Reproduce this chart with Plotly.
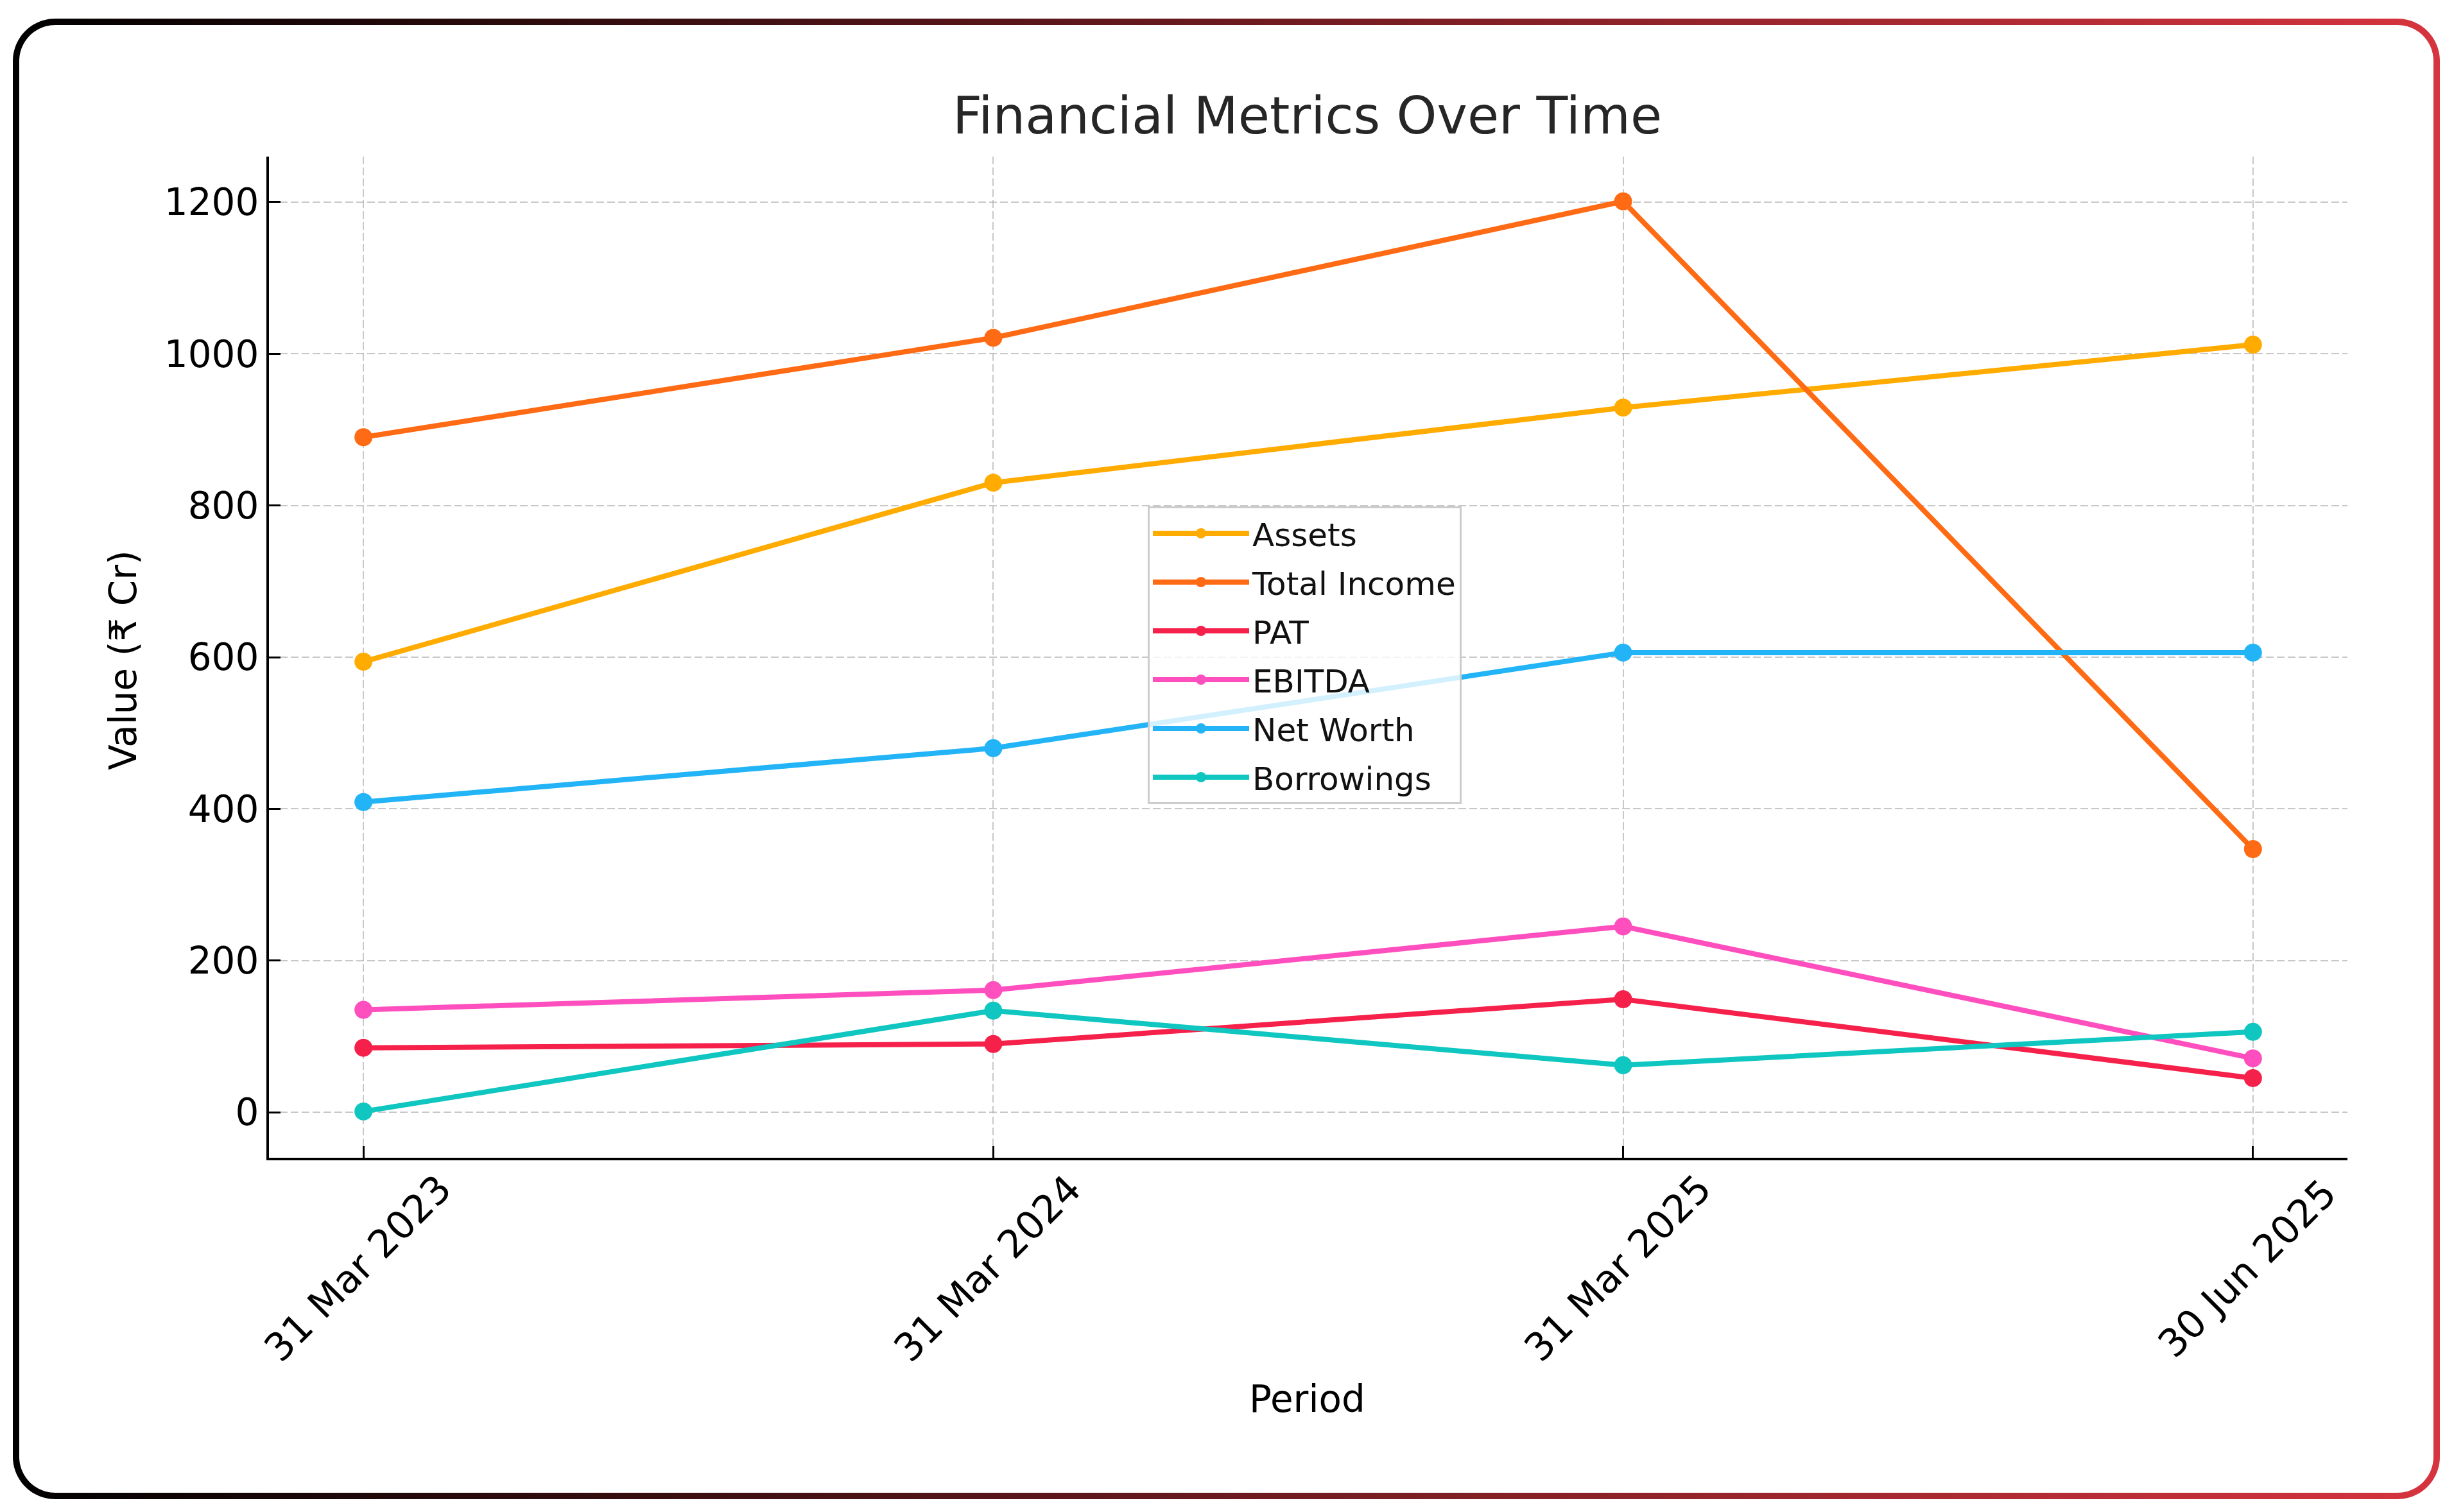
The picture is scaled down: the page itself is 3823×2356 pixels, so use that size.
import numpy as np
import plotly.graph_objects as go

# ---------------- data ----------------
periods = ["31 Mar 2023", "31 Mar 2024", "31 Mar 2025", "30 Jun 2025"]
assets = [594, 830, 929, 1012]
total_income = [890, 1021, 1201, 347]
pat = [85, 90, 149, 45]
ebitda = [135, 161, 245, 71]
net_worth = [409, 480, 606, 606]
borrowings = [1, 134, 62, 106]
y_ticks = [0, 200, 400, 600, 800, 1000, 1200]

series_names = ["Assets", "Total Income", "PAT", "EBITDA", "Net Worth", "Borrowings"]
series_values = [assets, total_income, pat, ebitda, net_worth, borrowings]
series_colors = ["#FFAB00", "#FF6A14", "#F5214B", "#FF4FBF", "#22B4F6", "#10C6C0"]

# ---------------- geometry ----------------
OFF = 8                      # page body margin
W, H = 3823 - 2 * OFF, 2356 - 2 * OFF


def fx(px):  # reference pixel -> paper fraction (x)
    return (px - OFF) / W


def fy(py):  # reference pixel -> paper fraction (y)
    return 1 - (py - OFF) / H


PL, PR, PT, PB = 419, 3657, 244, 1804
FONT = "DejaVu Sans"

fig = go.Figure()

for name, vals, col in zip(series_names, series_values, series_colors):
    fig.add_trace(go.Scatter(
        x=periods, y=vals, name=name, mode="lines+markers",
        legendgroup=name,
        line=dict(color=col, width=8),
        marker=dict(color=col, size=28),
        xaxis="x", yaxis="y",
    ))


# decorative rounded frame with horizontal gradient stroke
def rounded_rect(x0, y0, x1, y1, r, n=24):
    pts = []
    corners = [(x1 - r, y0 + r, -90, 0), (x1 - r, y1 - r, 0, 90),
               (x0 + r, y1 - r, 90, 180), (x0 + r, y0 + r, 180, 270)]
    for cx, cy, a0, a1 in corners:
        for t in np.linspace(np.radians(a0), np.radians(a1), n):
            pts.append((cx + r * np.cos(t) - OFF, cy + r * np.sin(t) - OFF))
    pts.append(pts[0])
    return pts


outer = rounded_rect(20, 29, 3801, 2336, 66)
inner = rounded_rect(30, 39, 3791, 2326, 56)
ring = outer + inner[::-1]
fig.add_trace(go.Scatter(
    x=[p[0] for p in ring], y=[p[1] for p in ring],
    xaxis="x2", yaxis="y2", mode="none", fill="toself",
    fillgradient=dict(type="horizontal",
                      colorscale=[[0, "#000000"], [1, "#D6343E"]]),
    showlegend=False, hoverinfo="skip",
))

grid_col = "rgba(176,176,176,0.7)"

fig.update_layout(
    width=W, height=H,
    margin=dict(l=0, r=0, t=0, b=0),
    paper_bgcolor="white", plot_bgcolor="rgba(0,0,0,0)",
    font=dict(family=FONT, size=58, color="black"),
    showlegend=True,
    legend=dict(
        x=fx(1788), y=fy(789), xanchor="left", yanchor="top",
        bgcolor="rgba(255,255,255,0.8)", bordercolor="#cccccc", borderwidth=3,
        font=dict(family=FONT, size=50, color="#111111"),
        itemwidth=150, tracegroupgap=8,
    ),
    xaxis=dict(
        type="category", domain=[fx(PL), fx(PR)], anchor="y",
        range=[-0.15, 3.15],
        showline=True, linecolor="black", linewidth=4,
        ticks="inside", ticklen=18, tickwidth=3, tickcolor="black",
        showticklabels=False,
        showgrid=True, gridcolor=grid_col, gridwidth=2, griddash="12px,5px",
        zeroline=False, fixedrange=True,
    ),
    yaxis=dict(
        domain=[fy(PB), fy(PT)], anchor="x",
        range=[-60, 1260],
        tickmode="array", tickvals=y_ticks, ticktext=[str(v) for v in y_ticks],
        showline=True, linecolor="black", linewidth=4,
        ticks="inside", ticklen=18, tickwidth=3, tickcolor="black",
        tickfont=dict(family=FONT, size=58, color="black"),
        showgrid=True, gridcolor=grid_col, gridwidth=2, griddash="12px,5px",
        zeroline=False, fixedrange=True,
    ),
    xaxis2=dict(domain=[0, 1], anchor="y2", range=[0, W], visible=False, fixedrange=True),
    yaxis2=dict(domain=[0, 1], anchor="x2", range=[H, 0], visible=False, fixedrange=True),
)

annotations = [
    dict(text="Financial Metrics Over Time", x=fx(2037), y=fy(181),
         xref="paper", yref="paper", xanchor="center", yanchor="middle",
         showarrow=False, font=dict(family=FONT, size=80, color="#262626")),
    dict(text="Value (₹ Cr)", x=fx(192), y=fy(1029),
         xref="paper", yref="paper", xanchor="center", yanchor="middle",
         textangle=-90, showarrow=False, font=dict(family=FONT, size=58, color="black")),
    dict(text="Period", x=fx(2036), y=fy(2180),
         xref="paper", yref="paper", xanchor="center", yanchor="middle",
         showarrow=False, font=dict(family=FONT, size=58, color="black")),
]
for p in periods:
    annotations.append(dict(
        text=p, x=p, xref="x", y=fy(1976), yref="paper", xshift=-9,
        xanchor="center", yanchor="middle", textangle=-45, showarrow=False,
        font=dict(family=FONT, size=60, color="black"),
    ))
fig.update_layout(annotations=annotations)

fig.write_html("out.html")
